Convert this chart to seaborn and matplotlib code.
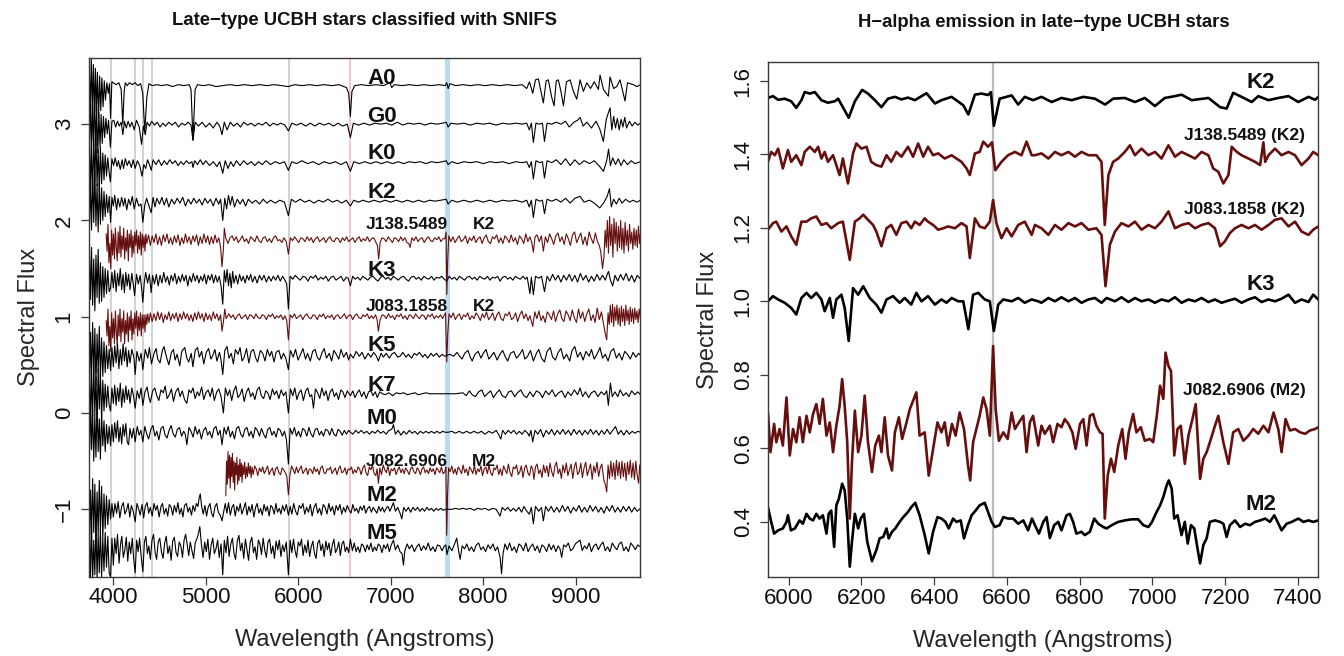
import numpy as np
import matplotlib
matplotlib.use("Agg")
import matplotlib.pyplot as plt
import seaborn as sns

# ---------------- data: left panel (wavelength, flux offset in 1/100 units) ----------------
S_A0 = [3742,10, 3752,-22, 3762,28, 3773,-26, 3784,22, 3795,-30, 3806,18, 3817,-28, 3828,14, 3840,-34, 3852,10, 3864,-26, 3876,8, 3889,-22, 3902,5, 3915,-15, 3930,3, 3945,-8, 3958,2, 3970,-34, 3984,4, 4000,3, 4030,1, 4060,3, 4085,-4, 4102,-40, 4117,-6, 4130,3, 4150,0, 4175,3, 4205,1, 4235,3, 4265,0, 4295,2, 4318,-8, 4340,-48, 4362,-12, 4385,2, 4420,0, 4470,1, 4520,0, 4580,1, 4640,-1, 4700,1, 4760,0, 4820,1, 4840,-4, 4861,-56, 4884,-4, 4910,1, 4970,0, 5040,1, 5110,-1, 5180,0, 5260,1, 5340,0, 5420,1, 5500,0, 5580,1, 5660,0, 5740,1, 5820,0, 5890,-1, 5960,1, 6040,0, 6120,1, 6200,0, 6280,1, 6360,0, 6440,1, 6520,-2, 6545,-8, 6563,-32, 6580,-6, 6610,0, 6680,1, 6760,0, 6840,1, 6920,0, 6990,3, 7010,-2, 7040,1, 7120,0, 7200,1, 7280,0, 7360,1, 7440,0, 7520,1, 7590,0, 7605,3, 7620,-3, 7640,2, 7700,0, 7780,1, 7860,0, 7940,1, 8020,0, 8100,1, 8180,0, 8260,1, 8340,0, 8420,1, 8470,-3, 8500,4, 8535,-8, 8565,6, 8596,7, 8650,-18, 8680,5, 8704,6, 8740,-12, 8766,-21, 8790,5, 8812,6, 8840,-6, 8867,-21, 8900,4, 8939,6, 8975,-6, 9011,-14, 9047,6, 9083,-6, 9120,3, 9160,-3, 9200,4, 9245,-4, 9263,11, 9300,-4, 9353,-11, 9371,9, 9410,-3, 9443,-1, 9479,6, 9533,-16, 9560,3, 9587,2, 9623,1, 9660,-1, 9700,1]
S_G0 = [3742,-18, 3752,26, 3763,-30, 3774,22, 3786,-26, 3797,30, 3809,-22, 3820,16, 3832,-30, 3844,12, 3856,-24, 3868,10, 3880,-20, 3893,8, 3906,-14, 3920,6, 3934,-10, 3948,4, 3968,-24, 3985,3, 4005,4, 4025,-3, 4045,3, 4065,-2, 4085,2, 4103,-11, 4120,3, 4140,-4, 4160,3, 4180,-3, 4200,2, 4226,-6, 4250,4, 4280,-3, 4305,-21, 4325,-2, 4345,-11, 4365,2, 4390,-2, 4415,3, 4445,-1, 4475,2, 4505,-3, 4535,1, 4565,-2, 4600,2, 4635,-1, 4670,2, 4705,-3, 4740,1, 4775,-1, 4810,2, 4840,-1, 4861,-17, 4885,2, 4920,-2, 4960,2, 5000,-3, 5040,1, 5080,-4, 5120,2, 5150,-2, 5175,-11, 5200,2, 5230,-6, 5265,2, 5300,-2, 5340,1, 5375,-3, 5410,2, 5450,-1, 5490,1, 5530,-2, 5570,1, 5610,-1, 5650,2, 5690,-2, 5730,1, 5770,-1, 5810,1, 5855,-1, 5893,-7, 5930,1, 5980,-1, 6030,1, 6080,-2, 6130,1, 6180,-2, 6230,1, 6280,-1, 6330,1, 6380,-2, 6430,1, 6480,-2, 6530,0, 6563,-14, 6595,1, 6650,-1, 6710,1, 6770,-1, 6830,1, 6890,0, 6950,1, 7010,-1, 7070,2, 7130,-1, 7190,1, 7250,0, 7310,1, 7370,-1, 7430,1, 7500,0, 7560,1, 7600,2, 7620,-3, 7650,1, 7720,0, 7790,1, 7860,-1, 7930,1, 8000,0, 8070,1, 8140,-1, 8210,1, 8280,0, 8350,1, 8420,0, 8470,1, 8498,-6, 8520,1, 8542,-19, 8570,1, 8610,0, 8640,1, 8662,-18, 8690,1, 8740,0, 8790,2, 8840,0, 8890,3, 8930,-3, 8980,2, 9020,4, 9047,7, 9080,-2, 9120,2, 9170,-4, 9220,3, 9260,-5, 9299,-18, 9330,5, 9371,17, 9390,-6, 9410,8, 9430,-4, 9450,6, 9470,-6, 9490,5, 9510,-3, 9530,7, 9550,-4, 9580,3, 9610,-2, 9640,2, 9670,-1, 9700,1]
S_K0 = [3742,22, 3753,-28, 3764,18, 3776,-32, 3788,26, 3800,-20, 3812,30, 3824,-24, 3836,14, 3848,-30, 3860,16, 3873,-22, 3886,10, 3899,-18, 3912,8, 3926,-14, 3940,5, 3955,-10, 3968,-20, 3985,4, 4003,-3, 4020,5, 4040,-4, 4055,2, 4075,-7, 4095,3, 4110,-6, 4130,4, 4150,-3, 4170,2, 4195,-5, 4215,3, 4236,-6, 4260,2, 4285,-3, 4310,-14, 4330,-2, 4350,-6, 4370,3, 4390,-2, 4410,-8, 4430,3, 4460,-2, 4490,3, 4520,-3, 4550,2, 4580,-2, 4610,3, 4640,-1, 4670,2, 4700,-3, 4730,1, 4760,-2, 4790,2, 4820,-1, 4850,1, 4861,-5, 4880,2, 4910,-2, 4940,3, 4970,-2, 5000,2, 5040,-3, 5080,1, 5120,-4, 5150,1, 5183,-11, 5210,2, 5240,-6, 5270,1, 5300,-4, 5330,2, 5370,-3, 5410,2, 5450,-2, 5490,1, 5530,-3, 5570,1, 5610,-2, 5650,2, 5700,-2, 5750,1, 5800,-1, 5850,1, 5893,-8, 5930,1, 5980,-1, 6040,2, 6100,-1, 6160,1, 6220,-2, 6280,1, 6340,-1, 6400,1, 6460,-2, 6520,1, 6563,-9, 6600,1, 6660,-1, 6720,1, 6780,-1, 6840,1, 6900,-1, 6960,1, 7020,-1, 7080,1, 7140,-1, 7200,1, 7260,0, 7320,1, 7380,-1, 7440,1, 7500,0, 7560,1, 7600,2, 7620,-2, 7660,1, 7720,-1, 7790,1, 7860,0, 7930,1, 8000,-1, 8070,1, 8140,0, 8210,1, 8280,-1, 8350,1, 8420,0, 8470,1, 8498,-5, 8520,1, 8542,-17, 8570,2, 8610,0, 8640,1, 8662,-16, 8690,2, 8740,0, 8790,3, 8840,-2, 8890,4, 8940,-3, 8990,3, 9040,-2, 9090,2, 9150,-1, 9200,2, 9250,-3, 9300,-9, 9335,2, 9355,14, 9375,-3, 9400,5, 9430,-2, 9460,4, 9490,-3, 9520,3, 9560,-2, 9600,2, 9640,-1, 9700,1]
S_K2 = [3742,-25, 3753,20, 3764,-30, 3776,28, 3788,-22, 3800,32, 3812,-26, 3824,18, 3836,-32, 3848,20, 3860,-24, 3873,14, 3886,-20, 3899,10, 3912,-16, 3926,7, 3940,-12, 3955,5, 3970,-22, 3985,4, 4000,-5, 4015,6, 4035,-9, 4050,3, 4070,-6, 4090,4, 4110,-5, 4125,3, 4145,-9, 4165,2, 4185,-4, 4205,5, 4226,-8, 4250,3, 4275,-5, 4300,-3, 4319,-22, 4340,-4, 4360,3, 4385,-5, 4409,-12, 4430,4, 4450,-6, 4470,3, 4500,-3, 4525,4, 4550,-4, 4575,3, 4600,-6, 4630,2, 4660,-3, 4690,3, 4720,-2, 4750,4, 4780,-5, 4810,2, 4840,-3, 4870,3, 4900,-2, 4930,2, 4960,-4, 4990,3, 5020,-2, 5050,2, 5080,-5, 5110,3, 5140,-3, 5160,2, 5183,-20, 5205,3, 5225,-8, 5245,6, 5265,-4, 5285,5, 5310,-6, 5340,2, 5370,-3, 5400,2, 5430,-5, 5460,2, 5500,-2, 5540,1, 5580,-3, 5620,2, 5660,-2, 5700,1, 5750,-2, 5800,1, 5850,-1, 5893,-15, 5925,2, 5970,-1, 6020,2, 6070,-1, 6120,1, 6170,-2, 6220,1, 6270,-1, 6320,2, 6370,-1, 6420,1, 6470,-2, 6520,1, 6563,-5, 6600,1, 6650,-1, 6700,1, 6760,-1, 6820,1, 6880,-1, 6940,1, 7000,-1, 7060,1, 7120,-1, 7180,1, 7240,-1, 7300,1, 7360,-1, 7420,1, 7480,0, 7540,1, 7600,2, 7620,-3, 7660,1, 7720,-1, 7790,1, 7860,-1, 7930,1, 8000,-1, 8070,1, 8140,-1, 8210,1, 8280,0, 8350,1, 8420,-1, 8470,1, 8498,-6, 8520,1, 8542,-17, 8570,2, 8610,0, 8640,1, 8662,-13, 8690,2, 8740,0, 8790,2, 8840,-1, 8890,3, 8940,-2, 8990,3, 9047,5, 9090,-1, 9150,1, 9200,-2, 9260,-7, 9300,-2, 9340,5, 9365,13, 9385,-6, 9410,2, 9440,-3, 9470,3, 9500,-2, 9540,2, 9580,-1, 9620,1, 9660,-1, 9700,1]
S_J138 = [3922,6, 3932,-12, 3942,16, 3952,-24, 3962,-4, 3972,-30, 3982,10, 3992,-16, 4002,6, 4012,-20, 4022,12, 4032,-8, 4042,-22, 4052,8, 4062,-14, 4072,14, 4082,-18, 4092,4, 4102,-10, 4112,12, 4122,-20, 4132,2, 4142,-12, 4152,10, 4162,-22, 4172,6, 4182,-8, 4192,10, 4202,-18, 4212,4, 4222,-14, 4232,8, 4242,-6, 4252,10, 4262,-14, 4272,4, 4282,-10, 4292,8, 4302,-16, 4312,6, 4322,-8, 4332,4, 4342,-12, 4352,6, 4362,-4, 4380,5, 4400,-6, 4420,4, 4440,-3, 4460,6, 4480,-5, 4500,3, 4520,-6, 4540,5, 4560,-2, 4580,6, 4600,-4, 4620,2, 4640,-5, 4660,4, 4680,-3, 4700,5, 4720,-6, 4740,2, 4760,-4, 4780,6, 4800,-3, 4820,3, 4840,-5, 4860,4, 4880,-2, 4900,5, 4920,-6, 4940,3, 4960,-4, 4980,6, 5000,-3, 5020,4, 5040,-5, 5060,3, 5080,-4, 5100,5, 5120,-3, 5140,2, 5160,-8, 5175,-28, 5190,-10, 5200,12, 5215,2,
          5240,-4, 5262,2, 5285,4, 5305,-1, 5330,3, 5350,-3, 5372,0, 5395,4, 5418,-2, 5440,1, 5462,-4, 5485,3, 5505,1, 5530,-2, 5552,4, 5575,-1, 5598,-3, 5620,2, 5642,3, 5665,-2, 5688,1, 5710,-3, 5732,2, 5755,4, 5778,-1, 5800,0, 5822,-3, 5845,2, 5870,-2, 5893,-15, 5915,2, 5938,-1, 5960,3, 5982,0, 6005,-3, 6028,2, 6050,1, 6072,-2, 6095,3, 6118,-1, 6140,2, 6162,-3, 6185,1, 6208,3, 6230,-2, 6252,0, 6275,2, 6298,-3, 6320,1, 6342,3, 6365,-1, 6388,-2, 6410,2, 6432,1, 6455,-3, 6478,2, 6500,-1, 6522,3, 6545,-2, 6568,0, 6590,2, 6612,-3, 6635,1, 6658,3, 6680,-2, 6702,1, 6725,-1, 6748,3, 6770,-2, 6792,1, 6815,2, 6840,-3, 6856,-6, 6869,-20, 6885,-3, 6905,2, 6928,1, 6950,-2, 6972,3, 6995,0, 7018,-3, 7040,2, 7062,1, 7085,-2, 7108,3, 7130,-1, 7152,2, 7175,-3, 7195,-4, 7209,-8, 7228,2, 7250,-1, 7272,3, 7295,-2, 7318,1, 7340,2, 7362,-3, 7385,1, 7408,3, 7430,-1, 7452,-2, 7475,2, 7498,0, 7520,3, 7542,-2, 7565,1, 7585,1, 7598,8, 7606,-57, 7616,-20,
          7628,4, 7650,-2, 7672,3, 7695,-3, 7718,1, 7740,4, 7762,-2, 7785,0, 7808,4, 7830,-4, 7852,2, 7875,-1, 7898,4, 7920,-3, 7942,1, 7965,3, 7988,-4, 8010,2, 8032,5, 8055,-2, 8078,-4, 8100,3, 8122,1, 8145,5, 8168,-3, 8190,2, 8212,-4, 8235,4, 8258,1, 8280,-3, 8302,5, 8325,-2, 8348,2, 8370,-5, 8392,4, 8415,1, 8438,-4, 8460,6, 8482,-2, 8505,3, 8525,-3, 8542,-13, 8560,3, 8582,5, 8605,-2, 8628,4, 8650,-12, 8672,3, 8695,-3, 8718,6, 8740,1, 8762,-5, 8785,4, 8808,7, 8830,-2, 8852,3, 8875,-5, 8898,6, 8920,1, 8942,-6, 8965,5, 8988,8, 9010,-3, 9032,2, 9055,7, 9078,-5, 9100,3, 9122,-6, 9145,8, 9168,1, 9190,-4, 9212,7, 9235,-2, 9255,-6,
          9270,-12, 9290,-30, 9305,-18, 9318,10, 9330,-8, 9342,20, 9354,-14, 9366,24, 9378,-6, 9390,16, 9402,-18, 9414,22, 9426,-4, 9438,18, 9450,-12, 9462,14, 9474,-8, 9486,20, 9498,-10, 9510,12, 9522,-14, 9534,18, 9546,-6, 9558,10, 9570,-12, 9582,16, 9594,-4, 9606,8, 9618,-10, 9630,12, 9642,-6, 9654,10, 9666,-8, 9678,14, 9690,-4, 9700,6]
S_K3 = [3742,28, 3753,-22, 3764,32, 3776,-28, 3788,20, 3800,-34, 3812,24, 3824,-20, 3836,30, 3848,-26, 3860,16, 3873,-24, 3886,12, 3899,-20, 3912,10, 3926,-16, 3940,8, 3955,-14, 3970,-10, 3985,6, 4000,-10, 4015,8, 4030,-14, 4045,5, 4060,-8, 4075,10, 4090,-12, 4105,4, 4120,-15, 4135,6, 4150,-8, 4165,4, 4180,-12, 4200,5, 4215,-6, 4230,-18, 4250,4, 4270,-6, 4290,3, 4305,-10, 4319,-25, 4335,-4, 4350,6, 4370,-5, 4390,4, 4409,-15, 4425,3, 4445,-6, 4465,4, 4485,-8, 4505,3, 4525,-5, 4545,6, 4565,-4, 4585,2, 4605,-7, 4625,3, 4645,-3, 4665,5, 4685,-6, 4705,2, 4725,-4, 4745,4, 4765,-3, 4785,3, 4805,-8, 4825,2, 4845,-4, 4865,5, 4885,-3, 4905,3, 4925,-5, 4945,2, 4965,-3, 4985,4, 5005,-6, 5025,3, 5045,-2, 5065,4, 5085,-5, 5105,3, 5125,-4, 5145,2, 5165,-8, 5183,-27, 5200,8, 5215,-4, 5230,9, 5245,-8, 5260,5, 5275,-10, 5290,7, 5305,-5, 5325,3, 5345,-6, 5365,4, 5385,-3, 5405,2, 5425,-5, 5445,3, 5465,-2, 5485,4, 5505,-4, 5530,2, 5555,-5, 5580,3, 5605,-2, 5630,3, 5655,-4, 5680,2, 5705,-3, 5730,2, 5755,-2, 5780,3, 5805,-3, 5830,2, 5855,-2, 5875,-6, 5893,-32,
        5912,2, 5940,-1, 5968,3, 5995,0, 6022,-2, 6050,2, 6078,1, 6105,-3, 6132,2, 6160,0, 6188,3, 6215,-2, 6242,1, 6270,-1, 6298,2, 6325,-3, 6352,1, 6380,2, 6408,-2, 6435,0, 6462,2, 6490,-3, 6518,1, 6540,0, 6563,-8, 6588,2, 6615,-1, 6642,1, 6670,-2, 6698,2, 6725,0, 6752,-2, 6780,1, 6808,2, 6835,-1, 6862,-3, 6890,1, 6918,2, 6945,-1, 6972,1, 7000,-2, 7028,2, 7055,0, 7082,-2, 7110,1, 7138,2, 7165,-1, 7192,-3, 7220,1, 7248,2, 7275,-1, 7302,1, 7330,-2, 7358,2, 7385,0, 7412,-1, 7440,2, 7468,-2, 7495,1, 7522,0, 7550,2, 7578,-1, 7605,-3, 7632,2, 7660,-1, 7688,1, 7715,-2, 7742,2, 7770,0, 7798,-2, 7825,1, 7852,2, 7880,-1, 7908,1, 7935,-2, 7962,2, 7990,0, 8018,-1, 8045,2, 8072,-2, 8100,1, 8128,0, 8155,2, 8182,-3, 8210,1, 8238,2, 8265,-1, 8292,1, 8320,-2, 8348,2, 8375,0, 8402,-1, 8430,2, 8455,-1, 8475,1,
        8505,-16, 8520,1, 8542,-17, 8565,2, 8600,0, 8630,2, 8662,-14, 8690,2, 8720,-3, 8750,4, 8780,-2, 8810,3, 8840,-4, 8870,3, 8900,-2, 8930,4, 8960,-3, 8990,3, 9020,-4, 9050,5, 9080,-2, 9110,3, 9140,-4, 9170,2, 9200,-3, 9230,4, 9260,-2, 9290,3, 9320,-2, 9340,4, 9355,7, 9375,-2, 9400,-8, 9425,3, 9455,-3, 9485,4, 9515,-2, 9545,5, 9575,-3, 9605,3, 9635,-4, 9665,3, 9700,-1]
S_J083 = [3922,-4, 3932,-20, 3942,8, 3952,-30, 3962,-10, 3972,-36, 3982,4, 3992,-22, 4002,-2, 4012,-28, 4022,6, 4032,-16, 4042,-30, 4052,2, 4062,-20, 4072,8, 4082,-26, 4092,-2, 4102,-16, 4112,6, 4122,-28, 4132,-4, 4142,-18, 4152,4, 4162,-26, 4172,0, 4182,-14, 4192,6, 4202,-24, 4212,-2, 4222,-18, 4232,4, 4242,-12, 4252,6, 4262,-20, 4272,0, 4282,-14, 4292,4, 4302,-20, 4312,2, 4322,-12, 4332,2, 4342,-16, 4352,2, 4362,-8, 4372,3, 4385,-6, 4400,4, 4420,-5, 4440,3, 4460,-4, 4480,5, 4500,-3, 4520,4, 4540,-6, 4560,2, 4580,-3, 4600,5, 4620,-4, 4640,3, 4660,-2, 4680,4, 4700,-5, 4720,3, 4740,-3, 4760,5, 4780,-2, 4800,3, 4820,-4, 4840,2, 4860,-5, 4880,4, 4900,-3, 4920,5, 4940,-2, 4960,3, 4980,-5, 5000,4, 5020,-3, 5040,2, 5060,-4, 5080,5, 5100,-2, 5120,3, 5140,-4, 5160,2, 5175,-15, 5192,-4, 5205,8, 5220,-2,
          5250,3, 5272,-1, 5295,2, 5318,-3, 5340,1, 5362,3, 5385,-2, 5408,0, 5430,2, 5452,-3, 5475,2, 5498,1, 5520,-2, 5542,3, 5565,-1, 5588,-2, 5610,2, 5632,1, 5655,-3, 5678,2, 5700,0, 5722,3, 5745,-2, 5768,1, 5790,-1, 5812,2, 5835,-3, 5855,1, 5875,-4, 5893,-24, 5912,2, 5935,-1, 5958,3, 5980,-2, 6002,0, 6025,2, 6048,-3, 6070,1, 6092,3, 6115,-1, 6138,-2, 6160,2, 6182,1, 6205,-3, 6228,2, 6250,0, 6272,3, 6295,-2, 6318,1, 6340,-1, 6362,2, 6385,-3, 6408,1, 6430,2, 6452,-2, 6475,0, 6498,3, 6520,-2, 6542,1, 6565,2, 6588,-3, 6610,1, 6632,3, 6655,-1, 6678,-2, 6700,2, 6722,0, 6745,3, 6768,-2, 6790,1, 6812,-2, 6835,2, 6852,-3, 6866,-15, 6885,-3, 6908,2, 6930,1, 6952,-2, 6975,3, 6998,-1, 7020,1, 7042,-3, 7065,2, 7088,0, 7110,3, 7132,-2, 7155,1, 7178,-3, 7200,2, 7222,1, 7245,-2, 7268,3, 7290,0, 7312,-2, 7335,2, 7358,1, 7380,-3, 7402,2, 7425,0, 7448,3, 7470,-2, 7492,1, 7515,-1, 7538,2, 7560,-2, 7580,2, 7592,4, 7605,-47, 7616,-18, 7630,3,
          7652,-1, 7675,4, 7698,-3, 7720,1, 7742,3, 7765,-3, 7788,2, 7810,0, 7832,4, 7855,-3, 7878,1, 7900,-2, 7922,4, 7945,1, 7968,-4, 7990,3, 8012,-1, 8035,5, 8058,-3, 8080,0, 8102,4, 8125,-4, 8148,2, 8170,5, 8192,-2, 8215,-4, 8238,3, 8260,1, 8282,5, 8305,-3, 8328,-1, 8350,4, 8372,-5, 8395,2, 8418,6, 8440,-2, 8462,3, 8485,-4, 8505,1, 8535,-10, 8558,5, 8580,-2, 8602,6, 8625,-4, 8648,1, 8670,-6, 8692,5, 8715,2, 8738,-3, 8760,6, 8782,-5, 8805,3, 8828,7, 8850,-2, 8872,-5, 8895,6, 8918,2, 8940,-4, 8962,7, 8985,-1, 9008,-6, 9030,8, 9052,-2, 9075,5, 9098,-5, 9120,3, 9142,8, 9165,-4, 9188,2, 9210,-6, 9232,9, 9255,-3, 9278,5,
          9305,-10, 9320,-18, 9335,-24, 9350,4, 9362,-8, 9374,12, 9386,-6, 9398,13, 9410,-10, 9422,10, 9434,-4, 9446,12, 9458,-8, 9470,9, 9482,-10, 9494,11, 9506,-5, 9518,8, 9530,-9, 9542,12, 9554,-4, 9566,7, 9578,-8, 9590,10, 9602,-5, 9614,8, 9626,-7, 9638,9, 9650,-3, 9662,6, 9674,-6, 9686,8, 9700,-2]
S_K5 = [3742,-30, 3753,24, 3764,-26, 3776,34, 3788,-20, 3800,28, 3812,-32, 3824,22, 3836,-18, 3848,30, 3860,-24, 3873,18, 3886,-22, 3899,14, 3912,-18, 3926,10, 3940,-14, 3955,6, 3970,-16, 3985,8, 4000,-12, 4015,10, 4030,-8, 4045,12, 4060,-14, 4075,6, 4090,-10, 4105,12, 4120,-6, 4135,8, 4150,-12, 4165,5, 4180,-8,
        4200,6, 4222,-2, 4236,-20, 4255,4, 4280,-6, 4300,2, 4319,-15, 4345,6, 4372,-3, 4390,8, 4412,-9, 4440,2, 4462,7, 4480,-4, 4505,-8, 4530,5, 4548,9, 4575,-2, 4600,-10, 4628,3, 4650,6, 4668,-5, 4690,1, 4718,-11, 4740,4, 4772,8, 4795,-3, 4815,-7, 4842,2, 4860,-12, 4885,5, 4910,8, 4930,-2, 4955,4, 4978,-9, 5005,3, 5030,7, 5055,-4, 5072,-1, 5098,6, 5120,-6, 5148,3, 5165,-5, 5183,-20, 5205,5, 5230,9, 5250,-3, 5275,2, 5298,-9, 5320,6, 5348,1, 5370,8, 5392,-6, 5415,-2, 5440,7, 5465,-8, 5490,4, 5515,6, 5540,-3, 5560,-7, 5590,5, 5615,2, 5640,-6, 5665,6, 5690,-1, 5712,4, 5738,-7, 5760,3, 5790,5, 5815,-4, 5840,2, 5865,-3, 5893,-15, 5915,5, 5945,-2, 5970,6, 5998,-5, 6025,1, 6050,7, 6078,-4, 6100,2, 6130,-6, 6155,4, 6182,6, 6205,-2, 6230,-5, 6258,3, 6280,7, 6305,-3, 6335,2, 6360,-6, 6385,5, 6410,1, 6438,-4, 6462,6, 6490,-2, 6520,3, 6545,-5, 6563,1, 6595,-3, 6625,4, 6660,-1, 6690,3, 6720,-4, 6755,2, 6785,-2, 6815,3, 6845,-1, 6866,-6,
        6895,2, 6920,-2, 6950,2, 6985,-3, 7010,1, 7040,3, 7075,-2, 7100,-1, 7130,3, 7165,-2, 7190,1, 7225,-3, 7255,2, 7280,0, 7310,3, 7345,-2, 7370,1, 7400,-3, 7435,2, 7460,-1, 7495,2, 7525,-2, 7555,1, 7585,-1, 7610,0,
        7640,1, 7680,-1, 7715,3, 7745,-1, 7770,-4, 7800,2, 7835,5, 7860,-2, 7880,-6, 7910,1, 7945,4, 7975,-3, 8000,2, 8030,6, 8060,-4, 8085,-1, 8115,3, 8150,-5, 8180,1, 8210,5, 8240,-2, 8265,-6, 8295,2, 8330,4, 8360,-3, 8395,1, 8425,6, 8450,-4, 8480,-1, 8510,5, 8542,-6, 8575,2, 8600,6, 8630,-3, 8662,-7, 8690,4, 8725,8, 8750,-2, 8780,-5, 8810,3, 8840,7, 8870,-4, 8900,1, 8935,-6, 8960,5, 8990,9, 9020,-2, 9050,3, 9080,-5, 9110,4, 9145,-1, 9170,6, 9200,-4, 9235,2, 9262,8, 9290,-3, 9320,1, 9350,-6, 9380,4, 9410,7, 9440,-3, 9470,2, 9500,-5, 9530,4, 9560,1, 9590,-4, 9620,3, 9650,-2, 9680,2, 9700,0]
S_K7 = [3742,26, 3753,-30, 3764,20, 3776,-24, 3788,32, 3800,-22, 3812,18, 3824,-30, 3836,26, 3848,-16, 3860,22, 3873,-26, 3886,14, 3899,-18, 3912,10, 3926,-14, 3940,8, 3955,-12, 3970,-18, 3985,6, 4000,-10, 4015,9, 4030,-12, 4045,6, 4060,-8, 4075,11, 4090,-14, 4105,5, 4120,-9, 4135,8, 4150,-6, 4165,4, 4180,-10,
        4200,6, 4218,-2, 4236,-15, 4258,3, 4280,-5, 4300,6, 4319,-12, 4342,2, 4365,7, 4385,-4, 4400,-9, 4425,3, 4448,6, 4470,-2, 4492,-7, 4515,4, 4540,1, 4560,8, 4582,-5, 4605,-1, 4628,5, 4650,-8, 4675,2, 4700,6, 4722,-3, 4745,3, 4770,-6, 4795,-10, 4818,4, 4840,1, 4862,6, 4885,-5, 4908,2, 4930,-2, 4955,7, 4978,-6, 5000,1, 5025,4, 5048,-3, 5070,6, 5092,-7, 5118,2, 5140,5, 5165,-3, 5190,-20, 5212,6, 5235,-2, 5258,4, 5280,-7, 5302,3, 5325,8, 5348,-4, 5370,-1, 5392,5, 5415,-8, 5440,2, 5462,6, 5485,-3, 5508,1, 5530,-6, 5555,4, 5578,7, 5600,-2, 5625,-5, 5648,3, 5670,1, 5695,-6, 5720,5, 5742,-1, 5765,3, 5790,-5, 5815,4, 5840,-2, 5865,2, 5893,-20, 5915,5, 5940,-2, 5962,6, 5985,-6, 6008,1, 6030,4, 6055,-7, 6080,3, 6102,6, 6125,-3, 6145,-1, 6164,-15, 6185,5, 6210,1, 6232,-5, 6255,6, 6278,-2, 6300,3, 6322,-7, 6345,2, 6368,5, 6390,-3, 6412,1, 6435,-6, 6460,4, 6482,2, 6505,-4, 6530,3, 6563,-2, 6590,3, 6612,-4, 6638,1, 6660,4, 6685,-3, 6710,2, 6735,-5, 6760,2, 6785,3, 6808,-2, 6832,2, 6855,-4, 6880,2,
        6910,0, 6940,-1, 6980,1, 7020,-2, 7060,1, 7100,0, 7140,1, 7180,-1, 7220,0, 7260,1, 7300,-1, 7340,0, 7380,1, 7420,0, 7460,0, 7540,0, 7620,0, 7700,0,
        7780,1, 7815,-2, 7850,3, 7880,-1, 7915,-3, 7950,2, 7985,4, 8015,-3, 8045,0, 8080,3, 8110,-4, 8145,1, 8175,4, 8205,-2, 8240,-4, 8275,2, 8305,3, 8340,-3, 8370,1, 8405,4, 8440,-2, 8470,-4, 8505,2, 8540,-3, 8575,3, 8610,1, 8640,-4, 8675,3, 8710,-1, 8745,4, 8780,-3, 8815,1, 8850,3, 8885,-4, 8915,2, 8950,-2, 8985,4, 9020,-1, 9047,6, 9075,-3, 9105,2, 9140,-4, 9170,1, 9205,3, 9240,-3, 9275,2, 9310,-1, 9335,3, 9353,-12, 9375,11, 9395,-3, 9425,2, 9455,-3, 9480,4, 9515,-2, 9545,1, 9575,-3, 9605,3, 9640,-1, 9670,2, 9700,-1]
S_M0 = [3742,-24, 3753,30, 3764,-18, 3776,24, 3788,-30, 3800,18, 3812,-26, 3824,30, 3836,-20, 3848,14, 3860,-28, 3873,20, 3886,-14, 3899,12, 3912,-20, 3926,8, 3940,-12, 3955,6, 3970,-14, 3985,8, 4000,-10, 4015,10, 4030,-6, 4045,12, 4060,-10, 4075,5, 4090,-12, 4105,8, 4120,-4, 4135,9, 4150,-10, 4165,-13, 4180,4,
        4200,-6, 4218,4, 4236,-10, 4258,6, 4278,-3, 4298,2, 4319,-10, 4340,6, 4362,-2, 4382,-7, 4405,3, 4428,7, 4450,-4, 4470,1, 4492,-8, 4515,4, 4538,6, 4560,-3, 4580,-6, 4603,2, 4625,7, 4648,-2, 4670,-5, 4692,3, 4715,5, 4738,-4, 4760,1, 4778,-2, 4795,-13, 4818,5, 4840,1, 4862,-5, 4885,6, 4908,-2, 4930,3, 4952,-7, 4975,2, 4998,5, 5020,-3, 5042,1, 5065,-6, 5088,4, 5110,6, 5132,-3, 5155,2, 5175,-13, 5198,5, 5220,-2, 5242,6, 5265,-5, 5288,1, 5310,-7, 5332,4, 5355,6, 5378,-2, 5400,-5, 5422,3, 5445,5, 5468,-4, 5490,1, 5512,-6, 5535,5, 5558,2, 5580,-4, 5602,4, 5625,-2, 5648,-6, 5670,3, 5692,5, 5715,-3, 5738,1, 5760,-5, 5782,4, 5805,2, 5828,-4, 5850,1, 5872,-8, 5893,-33, 5912,4, 5935,-2, 5958,5, 5980,-4, 6002,1, 6025,-5, 6048,4, 6070,2, 6092,-4, 6115,5, 6138,-2, 6160,-5, 6182,3, 6205,4, 6228,-3, 6250,1, 6272,-4, 6295,3, 6318,2, 6340,-3, 6362,4, 6385,-2, 6408,-4, 6430,3, 6452,1, 6475,-3, 6498,2, 6520,-2, 6545,2, 6563,0,
        6590,-2, 6620,2, 6650,-1, 6680,2, 6710,-1, 6740,1, 6770,-2, 6800,1, 6830,-1, 6860,2, 6890,-1, 6920,1, 6950,-2, 6980,2, 7010,3, 7029,8, 7050,-2, 7080,2, 7110,-3, 7140,1, 7170,-2, 7200,2, 7230,-1, 7260,1, 7290,-2, 7320,1, 7350,-1, 7380,1, 7410,-1, 7440,1, 7470,-1, 7500,1, 7530,-1, 7560,1, 7590,0, 7620,0, 7660,1, 7700,-1, 7740,1, 7780,-1, 7820,1, 7860,-1, 7900,1, 7940,-1, 7980,1, 8020,-2, 8060,1, 8100,-1, 8140,2, 8170,-3, 8190,-7, 8210,2, 8240,-2, 8270,2, 8300,-1, 8330,2, 8360,-2, 8390,1, 8420,-2, 8450,2, 8480,-1, 8498,-4, 8515,2, 8535,-10, 8560,2, 8590,-2, 8620,3, 8650,-5, 8680,2, 8710,-2, 8740,3, 8770,-3, 8800,2, 8830,-2, 8860,3, 8890,-2, 8920,2, 8950,-3, 8980,3, 9010,-2, 9040,2, 9070,-3, 9100,2, 9130,-2, 9160,3, 9190,-2, 9220,2, 9250,-3, 9280,2, 9310,-2, 9340,3, 9370,-2, 9400,2, 9430,6, 9460,-2, 9490,2, 9520,-3, 9550,2, 9580,-2, 9610,1, 9640,-1, 9670,1, 9700,0]
S_J082 = [5216,-26, 5224,10, 5232,-14, 5240,20, 5248,-8, 5256,16, 5264,-18, 5272,14, 5280,-6, 5288,18, 5296,-12, 5304,10, 5312,-20, 5320,8, 5328,-4, 5336,14, 5344,-14, 5352,6, 5360,-10, 5368,12, 5376,-6, 5384,8, 5392,-12, 5400,6, 5410,-4, 5420,9, 5430,-8, 5440,4, 5450,-6, 5460,8, 5470,-3, 5480,5, 5490,-7, 5500,4,
          5512,-4, 5528,5, 5545,2, 5562,-5, 5580,3, 5598,-1, 5615,4, 5632,-3, 5650,1, 5668,5, 5685,-4, 5702,0, 5720,3, 5738,-5, 5755,2, 5772,4, 5790,-2, 5808,-4, 5825,3, 5842,1, 5860,-2, 5876,-6, 5893,-25, 5910,-4, 5928,5, 5945,1, 5962,-3, 5980,4, 5998,-2, 6015,2, 6032,5, 6050,-3, 6068,0, 6085,3, 6102,-4, 6120,2, 6138,1, 6155,-3, 6172,4, 6190,-1, 6208,2, 6225,-4, 6242,3, 6260,5, 6278,-2, 6295,-3, 6312,2, 6330,1, 6348,4, 6365,-3, 6382,0, 6400,3, 6418,-4, 6435,2, 6452,5, 6470,-2, 6488,-1, 6505,3, 6522,-4, 6540,2, 6558,1, 6575,4, 6592,-3, 6610,1, 6628,-2, 6645,4, 6662,2, 6680,-4, 6698,3, 6715,6, 6732,-2, 6750,-5, 6768,4, 6785,1, 6802,6, 6820,-3, 6838,-5, 6852,2, 6866,-13, 6882,3, 6900,-4, 6918,6, 6935,1, 6952,-2, 6970,5, 6988,-5, 7005,2, 7022,0, 7040,3, 7058,-4, 7075,1, 7092,4, 7110,-2, 7128,2, 7145,-3, 7162,3, 7180,0, 7198,-4, 7215,2, 7232,4, 7250,-1, 7268,-3, 7285,3, 7302,1, 7320,-4, 7338,2, 7355,4, 7372,-2, 7390,1, 7408,-3, 7425,3, 7442,-1, 7460,2, 7478,-4, 7495,3, 7512,1, 7530,-2, 7548,4, 7565,-3, 7585,-1, 7596,4, 7605,-67, 7614,-25, 7625,3,
          7642,-1, 7660,5, 7678,-3, 7695,2, 7712,-4, 7730,4, 7748,1, 7765,-3, 7782,6, 7800,-2, 7818,2, 7835,-5, 7852,4, 7870,1, 7888,-3, 7905,6, 7922,-4, 7940,2, 7958,-1, 7975,5, 7992,-5, 8010,2, 8028,4, 8045,-3, 8062,6, 8080,-2, 8098,-5, 8115,3, 8132,1, 8150,6, 8168,-4, 8185,2, 8202,-5, 8220,5, 8238,1, 8255,-3, 8272,7, 8290,-2, 8308,-6, 8325,4, 8342,2, 8360,6, 8378,-4, 8395,-1, 8412,5, 8430,-7, 8448,3, 8465,6, 8482,-2, 8500,-5, 8518,5, 8535,2, 8548,-9, 8565,4, 8582,7, 8600,-3, 8618,1, 8635,-7, 8652,6, 8670,-2, 8688,5, 8705,-6, 8722,8, 8740,-1, 8758,-6, 8775,5, 8792,9, 8810,-3, 8828,2, 8845,-8, 8862,6, 8880,-2, 8898,8, 8915,-5, 8932,1, 8950,7, 8968,-8, 8985,4, 9002,9, 9020,-4, 9038,-1, 9055,8, 9072,-7, 9090,3, 9108,9, 9125,-5, 9142,1, 9160,7, 9178,-9, 9195,5, 9212,-2, 9230,9, 9248,-6, 9265,3, 9282,7,
          9305,-10, 9320,-14, 9335,-22, 9350,6, 9365,-8, 9380,10, 9395,-6, 9410,8, 9425,-9, 9440,11, 9455,-5, 9470,9, 9485,-8, 9500,10, 9515,-6, 9530,8, 9545,-10, 9560,9, 9575,-4, 9590,11, 9605,-7, 9620,8, 9635,-9, 9650,10, 9665,-5, 9680,-13, 9692,6, 9700,-3]
S_M2 = [3742,-34, 3753,20, 3764,-28, 3776,32, 3788,-24, 3800,26, 3812,-36, 3824,18, 3836,-26, 3848,30, 3860,-22, 3873,24, 3886,-30, 3899,16, 3912,-20, 3926,14, 3940,-16, 3955,10, 3970,-10, 3985,6,
        4000,-8, 4018,6, 4035,-4, 4052,8, 4070,-9, 4090,3, 4108,7, 4125,-5, 4142,-1, 4160,6, 4178,-8, 4195,4, 4215,-2, 4236,-13, 4255,6, 4272,1, 4290,-6, 4310,5, 4328,-9, 4345,3, 4365,7, 4382,-4, 4400,2, 4420,-7, 4440,6, 4458,-1, 4476,4, 4495,-8, 4515,3, 4532,6, 4550,-5, 4570,1, 4588,-7, 4605,5, 4625,2, 4642,-6, 4660,4, 4680,-3, 4698,7, 4716,-5, 4735,1, 4752,-8, 4770,4, 4790,6, 4808,-3, 4825,2, 4845,-6, 4862,4, 4880,-2, 4898,6, 4915,3, 4928,12, 4940,16, 4955,3, 4972,-5, 4990,4, 5008,-7, 5025,2, 5045,6, 5062,-4, 5080,-8, 5100,3, 5118,6, 5135,-3, 5155,-6, 5175,-12, 5192,-3, 5210,6, 5228,-4, 5245,7, 5265,-6, 5282,2, 5300,5, 5318,-7, 5335,3, 5355,-2, 5372,6, 5390,-5, 5410,1, 5428,7, 5446,-6, 5465,3, 5482,-3, 5500,5, 5520,-8, 5538,2, 5555,6, 5575,-4, 5592,1, 5610,-6, 5630,5, 5648,-2, 5665,3, 5685,-7, 5702,4, 5720,2, 5740,-5, 5758,6, 5775,-3, 5795,1, 5812,-5, 5830,4, 5850,-2, 5870,5, 5893,-6, 5912,3, 5930,-5, 5950,6, 5970,-2, 5990,-6, 6010,4, 6030,1, 6050,6, 6070,-5, 6090,2, 6110,-3, 6130,5, 6150,-7, 6170,2, 6190,6, 6210,-4, 6230,1, 6250,-6, 6270,5, 6290,2, 6310,-5, 6330,6, 6350,-2, 6370,3, 6390,-6, 6410,4, 6430,-1, 6450,5, 6470,-5, 6490,2, 6510,-3, 6530,4, 6550,-1, 6570,-4, 6590,5, 6610,-2, 6630,1, 6650,-4, 6670,3, 6690,-1, 6710,4, 6730,-4, 6750,1, 6770,3, 6790,-3, 6810,2, 6830,-1, 6850,-4, 6870,3, 6890,-2, 6910,2, 6930,-3, 6950,1, 6970,3, 6990,-2,
        7029,7, 7050,-2, 7075,2, 7100,-4, 7119,-10, 7140,2, 7165,-2, 7190,2, 7215,-3, 7240,2, 7265,-1, 7290,2, 7315,-2, 7340,1, 7365,-2, 7390,2, 7415,-1, 7440,1, 7465,-2, 7490,1, 7515,-1, 7540,1, 7565,-1, 7590,0, 7620,0, 7660,0, 7700,1, 7740,0, 7780,1, 7820,0, 7860,1, 7900,-1, 7940,1, 7980,0, 8020,1, 8060,-1, 8100,1, 8140,0, 8182,-7, 8205,2, 8235,-1, 8265,2, 8295,-2, 8325,1, 8355,-2, 8385,2, 8415,-3, 8440,3, 8470,-2, 8498,-5, 8520,2, 8542,-15, 8565,3, 8600,-2, 8630,2, 8650,-12, 8675,3, 8705,-2, 8735,3, 8765,-3, 8795,2, 8825,-3, 8855,4, 8885,-2, 8915,3, 8945,-4, 8975,2, 9005,-2, 9035,4, 9065,-3, 9095,2, 9125,-3, 9155,4, 9185,-2, 9215,3, 9245,-3, 9275,2, 9305,-4, 9335,3, 9365,-2, 9395,4, 9425,-3, 9455,2, 9485,-3, 9515,3, 9545,-2, 9575,3, 9605,-3, 9635,2, 9665,-2, 9700,1]
S_M5 = [3742,12, 3753,-30, 3764,26, 3776,-34, 3788,8, 3800,-28, 3812,24, 3824,-32, 3836,14, 3848,-26, 3860,20, 3873,-30, 3886,10, 3899,-24, 3912,16, 3926,-20, 3940,12, 3955,-26, 3970,-30, 3985,10,
        4000,-18, 4015,10, 4030,-6, 4045,14, 4062,-16, 4078,4, 4092,12, 4108,-10, 4125,-2, 4140,11, 4156,-14, 4172,6, 4188,-6, 4205,10, 4220,-12, 4236,-26, 4252,8, 4268,-4, 4284,10, 4300,-8, 4319,-25, 4336,6, 4352,12, 4368,-6, 4384,2, 4400,-12, 4418,8, 4435,14, 4452,-5, 4468,-12, 4485,6, 4502,10, 4520,-4, 4538,-11, 4555,5, 4572,12, 4590,-6, 4608,2, 4625,-13, 4642,7, 4660,11, 4678,-5, 4695,-9, 4712,6, 4730,2, 4748,-10, 4765,8, 4782,14, 4798,4, 4815,-8, 4832,6, 4850,-3, 4868,-11, 4885,5, 4902,9, 4918,14, 4935,22, 4952,4, 4970,-10, 4988,6, 5005,-4, 5022,9, 5040,-12, 5058,3, 5075,10, 5092,-6, 5110,-1, 5128,8, 5145,-10, 5165,4, 5183,-28, 5200,8, 5218,-5, 5235,12, 5252,-9, 5270,4, 5288,10, 5305,-6, 5322,-12, 5340,7, 5358,13, 5375,-3, 5392,5, 5410,-11, 5428,9, 5445,-2, 5462,-13, 5480,6, 5498,11, 5515,-5, 5532,1, 5550,-12, 5568,8, 5585,4, 5602,-7, 5620,10, 5638,-3, 5655,-10, 5672,6, 5690,9, 5708,-6, 5725,2, 5742,-11, 5760,7, 5778,-2, 5795,8, 5812,-9, 5830,3, 5848,-4, 5870,6, 5893,-28, 5912,8, 5930,-5, 5948,9, 5965,-3, 5982,-10, 6000,6, 6018,2, 6035,9, 6052,-8, 6070,3, 6088,-5, 6105,8, 6122,-9, 6140,1, 6158,7, 6175,-6, 6192,-11, 6210,5, 6228,8, 6245,-3, 6262,4, 6280,-9, 6298,7, 6315,-2, 6332,5, 6350,-8, 6368,3, 6385,9, 6402,-5, 6420,-1, 6438,6, 6455,-8, 6472,4, 6490,7, 6508,-4, 6525,1, 6545,-5, 6563,9, 6585,-3, 6605,5, 6625,-4, 6645,1, 6665,-5, 6685,4, 6705,2, 6725,-4, 6745,3, 6765,-2, 6785,5, 6805,-4, 6825,1, 6845,-3, 6865,4, 6885,2, 6905,-5, 6925,3, 6945,-1, 6965,4, 6985,-4, 7005,3,
        7029,8, 7050,-2, 7075,3, 7100,-4, 7122,-6, 7137,-18, 7152,-3, 7178,4, 7200,-1, 7228,3, 7255,-4, 7280,1, 7305,4, 7330,-3, 7355,2, 7380,-2, 7405,5, 7430,-3, 7455,1, 7480,-4, 7505,3, 7530,2, 7555,-3, 7580,2, 7595,3, 7608,-7, 7630,2, 7660,-3, 7690,4, 7713,10, 7735,-4, 7750,-12, 7772,2, 7798,-1, 7822,4, 7848,-3, 7872,1, 7898,-4, 7925,3, 7950,5, 7975,-2, 8000,1, 8025,-4, 8052,3, 8078,-1, 8105,4, 8130,-3, 8155,1, 8182,-10, 8198,-27, 8214,-6, 8235,4, 8260,-2, 8285,5, 8310,-3, 8335,1, 8360,-5, 8385,4, 8410,2, 8435,-3, 8460,5, 8485,-4, 8510,1, 8535,4, 8560,-3, 8585,2, 8610,-5, 8635,3, 8660,1, 8685,-4, 8710,4, 8735,-2, 8760,3, 8785,-4, 8810,2, 8830,-1, 8848,-10, 8870,3, 8895,1, 8920,5, 8945,-3, 8970,-1, 8995,4, 9020,6, 9047,8, 9070,-3, 9095,2, 9120,-1, 9145,5, 9170,-4, 9195,2, 9220,4, 9245,-2, 9270,3, 9295,6, 9320,-3, 9345,1, 9370,-4, 9395,5, 9420,1, 9445,-2, 9470,4, 9495,6, 9520,-3, 9545,1, 9570,-4, 9595,5, 9620,2, 9645,-2, 9670,3, 9700,1]

LEFT_NAMES = ["A0", "G0", "K0", "K2", "J138.5489", "K3", "J083.1858", "K5", "K7", "M0", "J082.6906", "M2", "M5"]
LEFT_CLASSES = ["", "", "", "", "K2", "", "K2", "", "", "", "M2", "", ""]
LEFT_LEVELS = [3.4, 3.0, 2.6, 2.2, 1.8, 1.4, 1.0, 0.6, 0.2, -0.2, -0.6, -1.0, -1.4]
LEFT_SPECTRA = [S_A0, S_G0, S_K0, S_K2, S_J138, S_K3, S_J083, S_K5, S_K7, S_M0, S_J082, S_M2, S_M5]
LEFT_LINES_GRAY = [3979, 4236, 4319, 4416, 5901]
LEFT_LINE_HALPHA = 6563
LEFT_TELLURIC = [7588, 7640]

# ---------------- data: right panel (wavelength, flux) ----------------
R_K2 = [5943,1.554, 5957,1.559, 5971,1.549, 5989,1.552, 6007,1.545, 6021,1.527, 6035,1.548, 6044,1.570, 6058,1.566, 6072,1.570, 6090,1.548, 6108,1.541, 6127,1.545, 6136,1.552, 6149,1.529, 6165,1.500, 6182,1.545, 6202,1.576, 6218,1.566, 6237,1.548, 6255,1.529, 6273,1.552, 6292,1.557, 6310,1.550, 6328,1.555, 6347,1.548, 6362,1.557, 6379,1.567, 6402,1.539, 6420,1.548, 6448,1.557, 6480,1.534, 6494,1.509, 6512,1.563, 6530,1.566, 6548,1.562, 6556,1.570, 6564,1.478, 6580,1.552, 6613,1.561, 6631,1.536, 6649,1.557, 6672,1.548, 6695,1.557, 6723,1.543, 6750,1.554, 6778,1.548, 6810,1.557, 6842,1.552, 6870,1.536, 6892,1.552, 6924,1.554, 6952,1.543, 6979,1.554, 7007,1.532, 7034,1.554, 7062,1.559, 7080,1.563, 7108,1.548, 7154,1.554, 7186,1.529, 7204,1.525, 7222,1.568, 7245,1.557, 7273,1.543, 7291,1.559, 7319,1.548, 7346,1.554, 7374,1.559, 7401,1.543, 7429,1.557, 7447,1.549, 7456,1.557]
R_J138 = [5943,1.380, 5952,1.407, 5962,1.398, 5971,1.416, 5984,1.362, 5998,1.412, 6007,1.380, 6021,1.398, 6035,1.371, 6044,1.407, 6058,1.421, 6072,1.407, 6081,1.421, 6090,1.389, 6099,1.407, 6108,1.380, 6122,1.398, 6140,1.344, 6149,1.389, 6163,1.321, 6177,1.403, 6186,1.430, 6200,1.416, 6214,1.421, 6227,1.380, 6241,1.371, 6255,1.367, 6269,1.398, 6282,1.380, 6296,1.407, 6310,1.394, 6328,1.421, 6342,1.394, 6356,1.430, 6370,1.394, 6383,1.421, 6397,1.398, 6411,1.403, 6429,1.389, 6448,1.398, 6461,1.389, 6475,1.380, 6489,1.362, 6498,1.344, 6512,1.403, 6525,1.407, 6535,1.435, 6548,1.421, 6559,1.433, 6568,1.357, 6585,1.380, 6603,1.398, 6622,1.407, 6640,1.398, 6654,1.435, 6668,1.398, 6677,1.398, 6695,1.403, 6714,1.389, 6732,1.407, 6750,1.398, 6769,1.407, 6787,1.394, 6805,1.407, 6824,1.398, 6846,1.398, 6860,1.380, 6869,1.208, 6879,1.344, 6892,1.380, 6906,1.389, 6924,1.407, 6938,1.425, 6952,1.398, 6970,1.416, 6989,1.398, 7007,1.407, 7025,1.389, 7044,1.425, 7062,1.394, 7080,1.407, 7099,1.398, 7117,1.389, 7135,1.407, 7154,1.398, 7167,1.362, 7181,1.353, 7195,1.321, 7209,1.344, 7218,1.421, 7232,1.407, 7245,1.398, 7264,1.389, 7282,1.380, 7296,1.371, 7305,1.433, 7310,1.380, 7319,1.398, 7337,1.416, 7355,1.398, 7374,1.407, 7392,1.398, 7410,1.371, 7429,1.389, 7442,1.407, 7456,1.398]
R_J083 = [5943,1.195, 5957,1.213, 5966,1.217, 5980,1.190, 5994,1.204, 6007,1.177, 6021,1.154, 6035,1.217, 6049,1.217, 6062,1.226, 6076,1.231, 6090,1.208, 6104,1.213, 6117,1.199, 6136,1.213, 6149,1.217, 6168,1.113, 6182,1.217, 6195,1.226, 6205,1.236, 6218,1.222, 6232,1.208, 6241,1.190, 6255,1.150, 6269,1.199, 6282,1.208, 6296,1.181, 6310,1.213, 6324,1.217, 6337,1.199, 6347,1.217, 6360,1.208, 6374,1.226, 6383,1.217, 6397,1.208, 6411,1.195, 6425,1.199, 6438,1.204, 6457,1.199, 6475,1.213, 6489,1.204, 6498,1.118, 6512,1.226, 6525,1.204, 6539,1.199, 6553,1.217, 6562,1.276, 6571,1.213, 6585,1.172, 6599,1.199, 6613,1.177, 6631,1.208, 6649,1.217, 6668,1.181, 6677,1.208, 6695,1.199, 6714,1.181, 6732,1.208, 6750,1.195, 6769,1.213, 6787,1.204, 6805,1.213, 6824,1.195, 6846,1.199, 6860,1.181, 6871,1.041, 6883,1.154, 6897,1.190, 6915,1.213, 6934,1.204, 6952,1.217, 6970,1.195, 6989,1.208, 7007,1.199, 7025,1.217, 7044,1.245, 7062,1.199, 7080,1.208, 7099,1.213, 7117,1.199, 7135,1.208, 7154,1.213, 7172,1.199, 7186,1.150, 7199,1.163, 7213,1.186, 7227,1.199, 7245,1.208, 7264,1.199, 7282,1.208, 7300,1.195, 7319,1.208, 7337,1.222, 7355,1.226, 7374,1.204, 7392,1.217, 7410,1.190, 7429,1.181, 7442,1.195, 7456,1.204]
R_K3 = [5943,1.000, 5957,1.014, 5971,1.005, 5989,0.996, 6007,0.982, 6021,0.964, 6035,1.009, 6049,1.023, 6062,1.009, 6076,1.023, 6090,1.005, 6099,0.973, 6113,1.009, 6122,0.955, 6131,1.005, 6145,1.018, 6154,0.982, 6165,0.892, 6177,1.036, 6191,1.018, 6205,1.041, 6223,1.009, 6241,0.991, 6255,0.969, 6269,1.005, 6287,1.014, 6305,0.996, 6319,1.009, 6337,0.991, 6351,1.023, 6365,1.000, 6383,1.014, 6402,0.991, 6420,1.005, 6434,0.996, 6448,1.009, 6466,1.000, 6480,1.000, 6494,0.924, 6507,1.018, 6521,1.023, 6539,1.005, 6553,1.000, 6564,0.919, 6576,0.991, 6590,1.005, 6613,1.000, 6631,1.009, 6649,0.996, 6668,1.005, 6686,1.000, 6695,0.996, 6714,1.009, 6732,1.000, 6750,1.011, 6769,1.000, 6787,1.009, 6805,0.996, 6824,1.005, 6842,1.009, 6860,0.996, 6874,1.009, 6897,1.000, 6915,1.011, 6934,0.998, 6952,1.009, 6970,1.000, 6989,1.005, 7007,0.996, 7025,1.005, 7044,1.000, 7062,1.011, 7080,0.996, 7099,1.005, 7117,1.000, 7135,1.009, 7154,0.998, 7172,1.005, 7190,0.996, 7209,1.002, 7227,1.007, 7245,0.996, 7264,1.005, 7282,1.011, 7300,0.998, 7319,1.005, 7337,1.000, 7355,1.007, 7374,1.018, 7392,0.996, 7410,1.005, 7429,0.998, 7442,1.018, 7456,1.005]
R_J082 = [5943,0.697, 5950,0.589, 5960,0.666, 5966,0.616, 5975,0.652, 5984,0.607, 5994,0.738, 6003,0.580, 6012,0.652, 6021,0.616, 6030,0.684, 6039,0.616, 6049,0.688, 6058,0.643, 6067,0.693, 6076,0.720, 6085,0.666, 6094,0.734, 6104,0.634, 6113,0.670, 6122,0.589, 6131,0.661, 6140,0.715, 6147,0.788, 6154,0.715, 6161,0.616, 6168,0.408, 6174,0.562, 6182,0.702, 6191,0.589, 6200,0.634, 6209,0.743, 6218,0.616, 6229,0.535, 6238,0.607, 6248,0.634, 6255,0.589, 6264,0.684, 6273,0.580, 6284,0.539, 6292,0.643, 6303,0.684, 6312,0.625, 6324,0.670, 6333,0.706, 6342,0.729, 6351,0.752, 6360,0.634, 6374,0.643, 6385,0.525, 6397,0.598, 6409,0.670, 6420,0.643, 6429,0.670, 6438,0.607, 6449,0.666, 6459,0.634, 6470,0.697, 6482,0.652, 6493,0.553, 6499,0.512, 6507,0.616, 6516,0.652, 6525,0.688, 6535,0.738, 6544,0.706, 6553,0.634, 6562,0.878, 6569,0.706, 6578,0.620, 6590,0.643, 6602,0.625, 6613,0.697, 6622,0.652, 6633,0.670, 6645,0.688, 6654,0.589, 6663,0.670, 6672,0.688, 6686,0.607, 6695,0.661, 6704,0.639, 6718,0.661, 6727,0.616, 6739,0.666, 6750,0.657, 6759,0.679, 6769,0.666, 6780,0.643, 6789,0.598, 6801,0.666, 6810,0.679, 6819,0.607, 6828,0.688, 6837,0.693, 6846,0.661, 6856,0.643, 6863,0.639, 6869,0.408, 6877,0.525, 6886,0.571, 6895,0.535, 6906,0.607, 6917,0.652, 6926,0.571, 6935,0.643, 6947,0.693, 6956,0.643, 6968,0.657, 6979,0.620, 6993,0.625, 7002,0.616, 7012,0.688, 7021,0.770, 7030,0.734, 7036,0.860, 7044,0.824, 7051,0.810, 7060,0.580, 7069,0.652, 7078,0.661, 7089,0.557, 7099,0.634, 7110,0.679, 7119,0.720, 7131,0.516, 7140,0.571, 7149,0.589, 7158,0.616, 7172,0.661, 7181,0.688, 7195,0.616, 7209,0.557, 7222,0.643, 7236,0.652, 7250,0.620, 7264,0.634, 7277,0.652, 7291,0.639, 7305,0.661, 7319,0.643, 7333,0.697, 7346,0.652, 7355,0.589, 7366,0.679, 7378,0.648, 7392,0.652, 7406,0.643, 7420,0.639, 7433,0.648, 7447,0.652, 7456,0.657]
R_M2 = [5943,0.439, 5952,0.399, 5960,0.367, 5971,0.376, 5984,0.381, 5994,0.399, 5998,0.417, 6006,0.376, 6017,0.381, 6030,0.403, 6039,0.394, 6049,0.421, 6058,0.408, 6067,0.403, 6076,0.421, 6085,0.408, 6094,0.417, 6104,0.367, 6110,0.421, 6117,0.430, 6125,0.331, 6131,0.444, 6138,0.462, 6147,0.503, 6154,0.485, 6161,0.408, 6168,0.277, 6174,0.345, 6182,0.421, 6191,0.381, 6198,0.408, 6207,0.421, 6216,0.345, 6229,0.292, 6241,0.322, 6250,0.354, 6260,0.358, 6269,0.381, 6275,0.354, 6284,0.372, 6293,0.381, 6305,0.399, 6315,0.412, 6328,0.426, 6337,0.439, 6348,0.451, 6360,0.417, 6374,0.363, 6385,0.313, 6397,0.372, 6409,0.412, 6420,0.408, 6431,0.399, 6440,0.381, 6452,0.408, 6461,0.399, 6473,0.403, 6482,0.354, 6493,0.390, 6503,0.417, 6514,0.430, 6525,0.444, 6539,0.451, 6548,0.426, 6558,0.399, 6567,0.385, 6580,0.390, 6590,0.412, 6603,0.408, 6617,0.408, 6631,0.394, 6645,0.403, 6658,0.376, 6669,0.408, 6677,0.390, 6688,0.367, 6700,0.399, 6709,0.412, 6718,0.355, 6730,0.390, 6741,0.399, 6750,0.376, 6764,0.417, 6773,0.421, 6782,0.399, 6791,0.367, 6805,0.372, 6814,0.363, 6828,0.372, 6840,0.408, 6851,0.394, 6865,0.385, 6874,0.381, 6888,0.390, 6906,0.399, 6924,0.403, 6943,0.406, 6961,0.406, 6975,0.390, 6989,0.385, 6999,0.399, 7009,0.421, 7021,0.444, 7030,0.467, 7039,0.498, 7045,0.512, 7053,0.489, 7060,0.408, 7069,0.417, 7080,0.363, 7089,0.399, 7097,0.340, 7106,0.390, 7115,0.381, 7124,0.326, 7131,0.286, 7140,0.336, 7149,0.354, 7158,0.399, 7172,0.403, 7186,0.399, 7195,0.394, 7204,0.358, 7213,0.390, 7227,0.403, 7241,0.385, 7255,0.394, 7268,0.390, 7282,0.399, 7296,0.403, 7310,0.408, 7323,0.399, 7335,0.417, 7344,0.399, 7355,0.376, 7369,0.394, 7383,0.399, 7401,0.408, 7415,0.399, 7429,0.403, 7442,0.399, 7456,0.403]

RIGHT_NAMES = ["K2", "J138.5489 (K2)", "J083.1858 (K2)", "K3", "J082.6906 (M2)", "M2"]
RIGHT_SPECTRA = [R_K2, R_J138, R_J083, R_K3, R_J082, R_M2]
RIGHT_LABEL_Y = [1.597, 1.452, 1.251, 1.045, 0.756, 0.446]
HALPHA = 6563

# ---------------- style ----------------
sns.set_theme(style="ticks")
plt.rcParams['font.family'] = ['Liberation Sans', 'DejaVu Sans']
plt.rcParams['axes.unicode_minus'] = True

BLACK = "#000000"
RED = "#650f0f"

fig = plt.figure(figsize=(13.44, 6.56), dpi=100)
axL = fig.add_axes([0.06644, 0.12088, 0.40975, 0.79116])
axR = fig.add_axes([0.57165, 0.11997, 0.40923, 0.78552])


def style_axes(ax):
    for sp in ax.spines.values():
        sp.set_visible(True)
        sp.set_color("#3a3a3a")
        sp.set_linewidth(1.0)
    ax.tick_params(axis="both", direction="out", length=5.5, width=0.9,
                   color="#3a3a3a", labelsize=16, labelcolor="#111111")
    ax.tick_params(axis="x", pad=2)
    ax.tick_params(axis="y", pad=5)
    for lab in ax.get_yticklabels():
        lab.set_rotation(90)
        lab.set_va("center")


# ---- left panel ----
for wl in LEFT_LINES_GRAY:
    axL.axvline(wl, color="#cfcfcf", lw=1.3, zorder=0)
axL.axvline(LEFT_LINE_HALPHA, color="#f2b9c6", lw=1.1, zorder=0)
axL.axvspan(LEFT_TELLURIC[0], LEFT_TELLURIC[1], color="#b9dcf3", lw=0, zorder=0)

for name, cls, lvl, spec in zip(LEFT_NAMES, LEFT_CLASSES, LEFT_LEVELS, LEFT_SPECTRA):
    arr = np.array(spec, dtype=float).reshape(-1, 2)
    color = RED if name.startswith("J") else BLACK
    sns.lineplot(x=arr[:, 0], y=lvl + arr[:, 1] / 100.0, ax=axL, color=color,
                 linewidth=0.8, sort=False, estimator=None, legend=False, zorder=2)

LABEL_DY = [0.07, 0.08, 0.09, 0.09, 0.155, 0.08, 0.105, 0.10, 0.09, 0.145, 0.10, 0.14, 0.15]
for name, cls, lvl, dy in zip(LEFT_NAMES, LEFT_CLASSES, LEFT_LEVELS, LABEL_DY):
    if cls:
        axL.text(7176, lvl + dy, name, ha="center", va="center", fontsize=12.5,
                 fontweight="bold", color="#111111", zorder=5)
        axL.text(8005, lvl + dy, cls, ha="center", va="center", fontsize=12.5,
                 fontweight="bold", color="#111111", zorder=5)
    else:
        axL.text(6900, lvl + dy, name, ha="center", va="center", fontsize=16,
                 fontweight="bold", color="#111111", zorder=5)

axL.set_xlim(3740, 9695)
axL.set_ylim(-1.70, 3.69)
axL.set_xticks([4000, 5000, 6000, 7000, 8000, 9000])
axL.set_yticks([-1, 0, 1, 2, 3])
axL.set_xlabel("Wavelength (Angstroms)", fontsize=17, labelpad=15)
axL.set_ylabel("Spectral Flux", fontsize=17, labelpad=10)
style_axes(axL)

# ---- right panel ----
axR.axvline(HALPHA, color="#bdbdbd", lw=1.6, zorder=0)
for name, spec in zip(RIGHT_NAMES, RIGHT_SPECTRA):
    arr = np.array(spec, dtype=float).reshape(-1, 2)
    color = RED if name.startswith("J") else BLACK
    sns.lineplot(x=arr[:, 0], y=arr[:, 1], ax=axR, color=color, linewidth=1.9,
                 sort=False, estimator=None, legend=False, zorder=2)

for name, ly in zip(RIGHT_NAMES, RIGHT_LABEL_Y):
    if name.startswith("J"):
        axR.text(7252, ly, name, ha="center", va="center", fontsize=12.5,
                 fontweight="bold", color="#111111", zorder=5)
    else:
        axR.text(7298, ly, name, ha="center", va="center", fontsize=16,
                 fontweight="bold", color="#111111", zorder=5)

axR.set_xlim(5944, 7456)
axR.set_ylim(0.248, 1.652)
axR.set_xticks([6000, 6200, 6400, 6600, 6800, 7000, 7200, 7400])
axR.set_yticks([0.4, 0.6, 0.8, 1.0, 1.2, 1.4, 1.6])
axR.set_yticklabels(["0.4", "0.6", "0.8", "1.0", "1.2", "1.4", "1.6"])
axR.set_xlabel("Wavelength (Angstroms)", fontsize=17, labelpad=15)
axR.set_ylabel("Spectral Flux", fontsize=17, labelpad=10)
style_axes(axR)

fig.text(0.2713, 0.968, "Late\u2212type UCBH stars classified with SNIFS", ha="center",
         va="center", fontsize=13.3, fontweight="bold", color="#111111")
fig.text(0.7763, 0.966, "H\u2212alpha emission in late\u2212type UCBH stars", ha="center",
         va="center", fontsize=13.3, fontweight="bold", color="#111111")

fig.savefig("out.png", dpi=100, facecolor="white")
